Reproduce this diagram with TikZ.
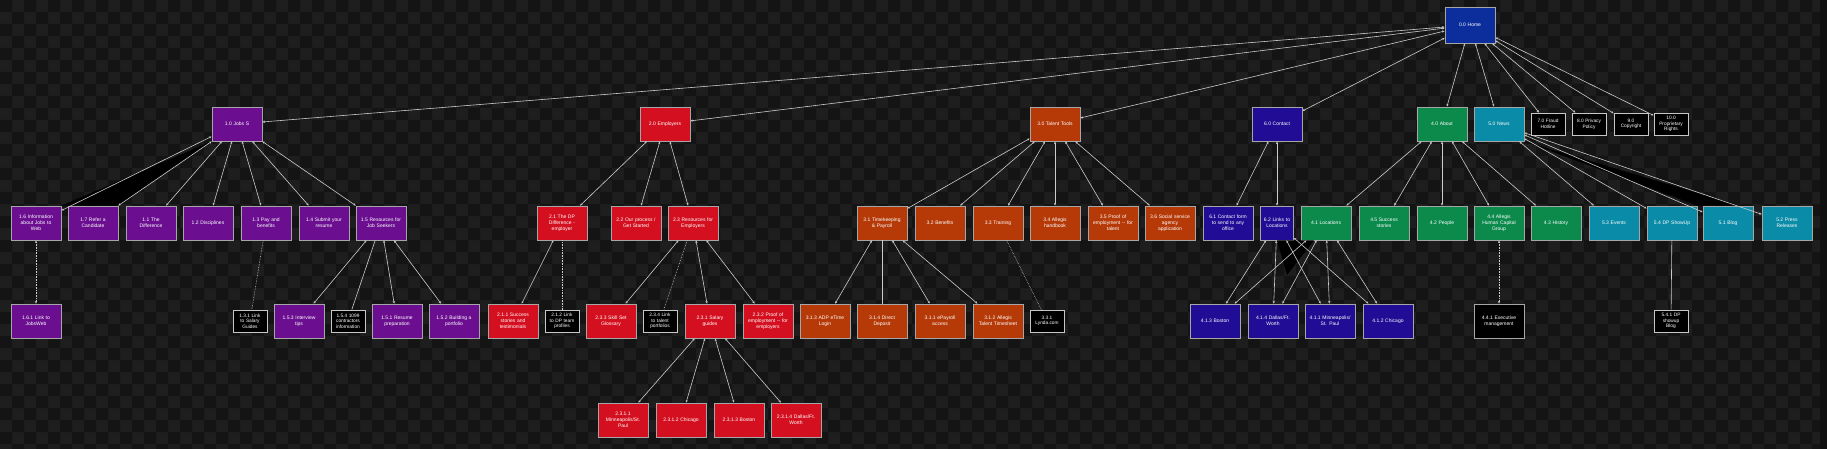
\documentclass[tikz,border=0pt]{standalone}
\usepackage{fontspec}
\usetikzlibrary{arrows.meta}
\newfontfamily\boxfont{Liberation Sans}
\definecolor{bgdark}{HTML}{141414}
\definecolor{bglight}{HTML}{1E1E1E}
\definecolor{homeblue}{HTML}{0C2E9C}
\definecolor{jobpurple}{HTML}{6B0F90}
\definecolor{empred}{HTML}{D41020}
\definecolor{talorange}{HTML}{B53A08}
\definecolor{connavy}{HTML}{200C95}
\definecolor{abtgreen}{HTML}{0B8A4C}
\definecolor{nwsteal}{HTML}{0A8CA8}
\hyphenpenalty=10000

\begin{document}
\begin{tikzpicture}[x=1pt,y=-1pt,
  box/.style={rectangle,draw=white!65!black,line width=.8pt,text=white,minimum width=50pt,minimum height=34pt,text width=46pt,align=center,inner sep=1pt,font=\boxfont\fontsize{5}{6}\selectfont},
  tinybox/.style={box,fill=black,draw=white!78!black,minimum width=34pt,minimum height=22pt,text width=32pt,font=\boxfont\fontsize{4.8}{5.6}\selectfont},
  homebox/.style={box,fill=homeblue,minimum height=36pt},
  jobbox/.style={box,fill=jobpurple},
  empbox/.style={box,fill=empred},
  talbox/.style={box,fill=talorange},
  conbox/.style={box,fill=connavy},
  abtbox/.style={box,fill=abtgreen},
  nwsbox/.style={box,fill=nwsteal},
  plainlink/.style={draw=white!80!black,line width=.6pt},
  link/.style={plainlink,{Stealth[length=2.6pt,width=2.2pt]}-{Stealth[length=2.6pt,width=2.2pt]}},
  dotlink/.style={plainlink,densely dotted},
  wedge/.style={fill=black}]
\useasboundingbox (0,0) rectangle (1827,449);
\fill[bgdark!80!black] (0,0) rectangle (1827,449);
\begin{scope}
\clip (0,0) rectangle (1820,449);
\fill[bglight] (0,0) rectangle (1820,449);
\foreach \j in {0,...,37} {
  \pgfmathtruncatemacro\off{mod(\j,2)*12}
  \fill[bgdark] \foreach \i in {0,24,...,1812} {(\i+\off,\j*12) rectangle ++(12,12)};
}
\end{scope}

\node[homebox] (home) at (1470,25) {0.0 Home};

\node[jobbox] (jobs) at (237,124) {1.0 Jobs S};
\node[jobbox] (j16) at (36,223) {1.6 Information\\about Jobs to\\Web};
\node[jobbox] (j17) at (93,223) {1.7 Refer a\\Candidate};
\node[jobbox] (j11) at (151,223) {1.1 The\\Difference};
\node[jobbox] (j12) at (208,223) {1.2 Disciplines};
\node[jobbox] (j13) at (266,223) {1.3 Pay and\\benefits};
\node[jobbox] (j14) at (324,223) {1.4 Submit your\\resume};
\node[jobbox] (j15) at (381,223) {1.5 Resources for\\Job Seekers};
\node[jobbox] (j161) at (36,321) {1.6.1 Link to\\JobsWeb};
\node[tinybox] (j131) at (250,321) {1.3.1 Link\\to Salary\\Guides};
\node[jobbox] (j153) at (299,321) {1.5.3 Interview\\tips};
\node[tinybox] (j154) at (348,321) {1.5.4 1099\\contractors\\information};
\node[jobbox] (j151) at (397,321) {1.5.1 Resume\\preparation};
\node[jobbox] (j152) at (454,321) {1.5.2 Building a\\portfolio};

\node[empbox] (emp) at (665,124) {2.0 Employers};
\node[empbox] (e21) at (562,223) {2.1 The DP\\Difference -\\employer};
\node[empbox] (e22) at (636,223) {2.2 Our process /\\Get Started};
\node[empbox] (e23) at (693,223) {2.3 Resources for\\Employers};
\node[empbox] (e211) at (513,321) {2.1.1 Success\\stories and\\testimonials};
\node[tinybox] (e212) at (562,321) {2.1.2 Link\\to DP team\\profiles};
\node[empbox] (e233) at (611,321) {2.3.3 Skill Set\\Glossary};
\node[tinybox] (e234) at (660,321) {2.3.4 Link\\to talent\\portfolios};
\node[empbox] (e231) at (710,321) {2.3.1 Salary\\guides};
\node[empbox] (e232) at (768,321) {2.3.2 Proof of\\employment -- for\\employers};
\node[empbox] (e2311) at (623,420) {2.3.1.1\\Minneapolis/St.\\Paul};
\node[empbox] (e2312) at (681,420) {2.3.1.2 Chicago};
\node[empbox] (e2313) at (739,420) {2.3.1.3 Boston};
\node[empbox] (e2314) at (796,420) {2.3.1.4 Dallas/Ft.\\Worth};

\node[talbox] (tal) at (1055,124) {3.0 Talent Tools};
\node[talbox] (t31) at (882,223) {3.1 Timekeeping\\\& Payroll};
\node[talbox] (t32) at (940,223) {3.2 Benefits};
\node[talbox] (t33) at (998,223) {3.3 Training};
\node[talbox] (t34) at (1055,223) {3.4 Allegis\\handbook};
\node[talbox] (t35) at (1113,223) {3.5 Proof of\\employment -- for\\talent};
\node[talbox] (t36) at (1170,223) {3.6 Social service\\agency\\application};
\node[talbox] (t313) at (825,321) {3.1.3 ADP eTime\\Login};
\node[talbox] (t314) at (882,321) {3.1.4 Direct\\Deposit};
\node[talbox] (t311) at (940,321) {3.1.1 ePayroll\\access};
\node[talbox] (t312) at (998,321) {3.1.2 Allegis\\Talent Timesheet};
\node[tinybox] (t331) at (1047,321) {3.3.1\\Lynda.com};

\node[conbox] (con) at (1277,124) {6.0 Contact};
\node[conbox] (c61) at (1228,223) {6.1 Contact form\\to send to any\\office};
\node[conbox,minimum width=33pt,text width=31pt] (c62) at (1277,223) {6.2 Links to\\Locations};

\node[abtbox] (abt) at (1442,124) {4.0 About};
\node[abtbox] (a41) at (1326,223) {4.1 Locations};
\node[abtbox] (a45) at (1384,223) {4.5 Success\\stories};
\node[abtbox] (a42) at (1442,223) {4.2 People};
\node[abtbox] (a44) at (1499,223) {4.4 Allegis\\Human Capital\\Group};
\node[abtbox] (a43) at (1556,223) {4.3 History};
\node[conbox] (a413) at (1215,321) {4.1.3 Boston};
\node[conbox] (a414) at (1273,321) {4.1.4 Dallas/Ft.\\Worth};
\node[conbox] (a411) at (1330,321) {4.1.1 Minneapolis/\\St. Paul};
\node[conbox] (a412) at (1388,321) {4.1.2 Chicago};
\node[box,fill=black] (a441) at (1499,321) {4.4.1 Executive\\management};

\node[nwsbox] (nws) at (1499,124) {5.0 News};
\node[nwsbox] (n53) at (1614,223) {5.3 Events};
\node[nwsbox] (n54) at (1672,223) {5.4 DP ShowUp};
\node[nwsbox] (n51) at (1728,223) {5.1 Blog};
\node[nwsbox] (n52) at (1787,223) {5.2 Press\\Releases};
\node[tinybox] (n541) at (1671,321) {5.4.1 DP\\showup\\Blog};

\node[tinybox] (f70) at (1548,124) {7.0 Fraud\\Hotline};
\node[tinybox] (f80) at (1589,124) {8.0 Privacy\\Policy};
\node[tinybox] (f90) at (1631,124) {9.0\\Copyright};
\node[tinybox] (f100) at (1671,124) {10.0\\Proprietary\\Rights};

\fill[wedge] (jobs.south west) -- (j16.north east) -- (j17.north east) -- cycle;
\fill[wedge] (c62.south) -- ([xshift=-12pt]a41.south) -- (1287,275) -- cycle;
\fill[wedge] (nws.south east) -- (n54.north east) -- ([xshift=12pt]n51.north) -- cycle;

\foreach \n in {jobs,emp,tal,con,abt,nws,f70,f80,f90,f100}
  \draw[link] (home) -- (\n);
\foreach \n in {j16,j17,j11,j12,j13,j14,j15}
  \draw[link] (jobs) -- (\n);
\draw[link,densely dotted] (j16) -- (j161);
\draw[dotlink] (j13) -- (j131);
\foreach \n in {j153,j151,j152}
  \draw[link] (j15) -- (\n);
\draw[plainlink] (j15) -- (j154);

\foreach \n in {e21,e22,e23}
  \draw[link] (emp) -- (\n);
\draw[link] (e21) -- (e211);
\draw[dotlink] (e21) -- (e212);
\foreach \n in {e233,e231,e232}
  \draw[link] (e23) -- (\n);
\draw[dotlink] (e23) -- (e234);
\foreach \n in {e2311,e2312,e2313,e2314}
  \draw[link] (e231) -- (\n);

\foreach \n in {t31,t32,t33,t34,t35,t36}
  \draw[link] (tal) -- (\n);
\foreach \n in {t313,t311,t312}
  \draw[link] (t31) -- (\n);
\draw[plainlink] (t31) -- (t314);
\draw[dotlink] (t33) -- (t331);

\foreach \n in {c61,c62}
  \draw[link] (con) -- (\n);
\foreach \n in {a413,a414,a411,a412} {
  \draw[link] (c62) -- (\n);
  \draw[link] (a41) -- (\n);
}
\foreach \n in {a41,a45,a42,a44,a43}
  \draw[link] (abt) -- (\n);
\draw[link,densely dotted] (a44) -- (a441);

\foreach \n in {n53,n54,n51,n52}
  \draw[link] (nws) -- (\n);
\draw[plainlink] (n54) -- (n541);
\end{tikzpicture}
\end{document}
